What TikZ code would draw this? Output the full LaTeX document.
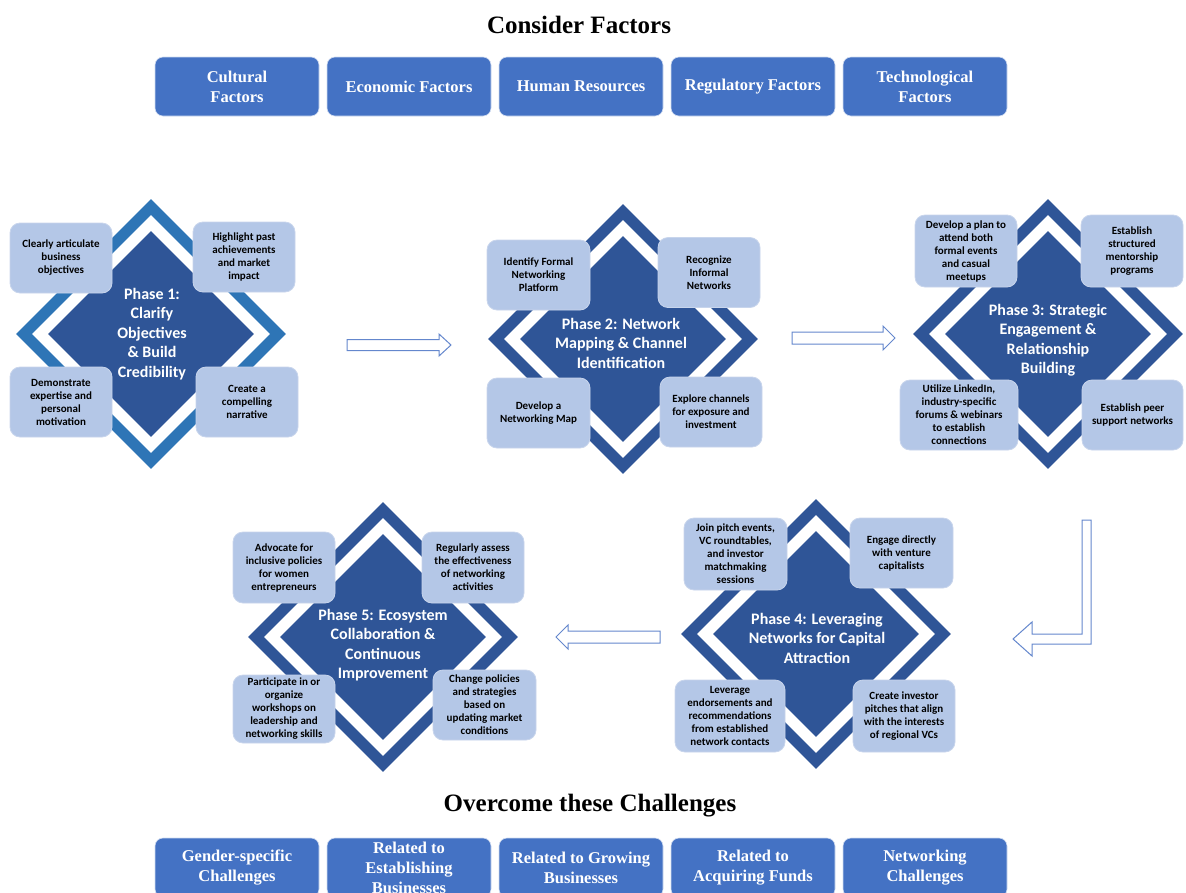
\documentclass[tikz,border=0pt]{standalone}
\usepackage{fontspec}
\setmainfont{Liberation Serif}
\newfontfamily\calfont{Carlito}
\usetikzlibrary{shapes.geometric}
\definecolor{fbl}{RGB}{68,114,196}
\definecolor{dkb}{RGB}{47,85,151}
\definecolor{ringa}{RGB}{46,117,182}
\definecolor{lbl}{RGB}{180,199,231}
\definecolor{lbd}{RGB}{200,213,236}
\definecolor{arrc}{RGB}{100,135,205}
\begin{document}
\begin{tikzpicture}[x=1pt,y=-1pt,
  factor/.style={rounded corners=8pt, fill=fbl, draw=white!75!fbl, line width=0.6pt,
    minimum width=164pt, minimum height=59pt, inner sep=2pt, align=center, text=white,
    font=\fontsize{16.5}{20}\selectfont\bfseries},
  head/.style={font=\fontsize{25}{30}\selectfont\bfseries, inner sep=0pt},
  ring/.style={diamond, minimum width=270pt, minimum height=270pt, inner sep=0pt, fill=dkb},
  gap/.style={diamond, minimum width=238pt, minimum height=238pt, inner sep=0pt, fill=white},
  core/.style={diamond, minimum width=206pt, minimum height=206pt, inner sep=0pt, fill=dkb},
  ptitle/.style={text=white, align=center, inner sep=0pt,
    font=\calfont\fontsize{16}{19.5}\selectfont\bfseries},
  item/.style={rounded corners=10pt, fill=lbl, draw=lbd, line width=0.8pt, align=center,
    inner sep=1pt, font=\calfont\fontsize{11}{13}\selectfont\bfseries,
    minimum width=102pt, minimum height=70pt},
  blk/.style={draw=arrc, line width=1pt, fill=white, line join=miter}
]
\useasboundingbox (0,0) rectangle (1186,892);
\clip (0,0) rectangle (1186,892);

% headings
\node[head] (h1) at (579,25) {Consider Factors};
\node[head] (h2) at (590,806) {Overcome these Challenges};

% factor boxes
\node[factor] (f1) at (237,86.5) {Cultural\\Factors};
\node[factor] (f2) at (409,86.5) {Economic Factors};
\node[factor] (f3) at (581,86.5) {Human Resources};
\node[factor] (f4) at (753,86.5) {Regulatory Factors};
\node[factor] (f5) at (925,86.5) {Technological\\Factors};

% challenge boxes
\node[factor] (c1) at (237,867.5) {Gender-specific\\Challenges};
\node[factor] (c2) at (409,867.5) {Related to\\Establishing\\Businesses};
\node[factor] (c3) at (581,867.5) {Related to Growing\\Businesses};
\node[factor] (c4) at (753,867.5) {Related to\\Acquiring Funds};
\node[factor] (c5) at (925,867.5) {Networking\\Challenges};

% Phase 1
\node[ring, fill=ringa] (p1r) at (151,334) {};
\node[gap] (p1g) at (151,334) {};
\node[core] (p1c) at (151,334) {};
\node[ptitle] (p1t) at (152,334) {Phase 1:\\Clarify\\Objectives\\\& Build\\Credibility};
\node[item] (p1a) at (61,258) {Clearly articulate\\business\\objectives};
\node[item] (p1b) at (244,257) {Highlight past\\achievements\\and market\\impact};
\node[item] (p1x) at (61,402) {Demonstrate\\expertise and\\personal\\motivation};
\node[item] (p1d) at (247,402) {Create a\\compelling\\narrative};

% Phase 2
\node[ring] (p2r) at (623,339) {};
\node[gap] (p2g) at (623,339) {};
\node[core] (p2c) at (623,339) {};
\node[ptitle] (p2t) at (621,343) {Phase 2: Network\\Mapping \& Channel\\Identification};
\node[item, minimum width=103pt] (p2a) at (538.5,275) {Identify Formal\\Networking\\Platform};
\node[item] (p2b) at (709,272.5) {Recognize\\Informal\\Networks};
\node[item, minimum width=103pt] (p2x) at (538.5,413) {Develop a\\Networking Map};
\node[item] (p2d) at (711,412) {Explore channels\\for exposure and\\investment};

% Phase 3
\node[ring] (p3r) at (1048,334) {};
\node[gap] (p3g) at (1048,334) {};
\node[core] (p3c) at (1048,334) {};
\node[ptitle] (p3t) at (1048,340) {Phase 3: Strategic\\Engagement \&\\Relationship\\Building};
\node[item, minimum height=72pt] (p3a) at (966,251) {Develop a plan to\\attend both\\formal events\\and casual\\meetups};
\node[item, minimum height=72pt] (p3b) at (1132,251) {Establish\\structured\\mentorship\\programs};
\node[item, minimum width=118pt] (p3x) at (959,415) {Utilize LinkedIn,\\industry-specific\\forums \& webinars\\to establish\\connections};
\node[item, minimum width=101pt] (p3d) at (1132.5,415) {Establish peer\\support networks};

% Phase 4
\node[ring] (p4r) at (816,634) {};
\node[gap] (p4g) at (816,634) {};
\node[core] (p4c) at (816,634) {};
\node[ptitle] (p4t) at (817,638) {Phase 4: Leveraging\\Networks for Capital\\Attraction};
\node[item, minimum width=103pt, minimum height=72pt] (p4a) at (735.5,554) {Join pitch events,\\VC roundtables,\\and investor\\matchmaking\\sessions};
\node[item, minimum width=103pt] (p4b) at (901.5,553) {Engage directly\\with venture\\capitalists};
\node[item, minimum width=110pt, minimum height=72pt] (p4x) at (730,716) {Leverage\\endorsements and\\recommendations\\from established\\network contacts};
\node[item, minimum height=72pt] (p4d) at (904,716) {Create investor\\pitches that align\\with the interests\\of regional VCs};

% Phase 5
\node[ring] (p5r) at (383,637) {};
\node[gap] (p5g) at (383,637) {};
\node[core] (p5c) at (383,637) {};
\node[ptitle] (p5t) at (383,645) {Phase 5: Ecosystem\\Collaboration \&\\Continuous\\Improvement};
\node[item, minimum height=71pt] (p5a) at (284,567.5) {Advocate for\\inclusive policies\\for women\\entrepreneurs};
\node[item, minimum height=71pt] (p5b) at (473,567.5) {Regularly assess\\the effectiveness\\of networking\\activities};
\node[item, minimum height=68pt] (p5x) at (284,709) {Participate in or\\organize\\workshops on\\leadership and\\networking skills};
\node[item, minimum width=103pt] (p5d) at (484.5,705) {Change policies\\and strategies\\based on\\updating market\\conditions};

% block arrows
\draw[blk] (347,339.5) -- (439,339.5) -- (439,334) -- (451,345) -- (439,356) -- (439,350.5) -- (347,350.5) -- cycle;
\draw[blk] (792,332) -- (883,332) -- (883,326) -- (895,338) -- (883,350) -- (883,344) -- (792,344) -- cycle;
\draw[blk] (1082,520) -- (1091,520) -- (1091,644) -- (1032,644) -- (1032,656) -- (1013,639) -- (1032,622) -- (1032,634) -- (1082,634) -- cycle;
\draw[blk] (660,631) -- (568,631) -- (568,625) -- (556,637) -- (568,649) -- (568,643) -- (660,643) -- cycle;
\end{tikzpicture}
\end{document}
